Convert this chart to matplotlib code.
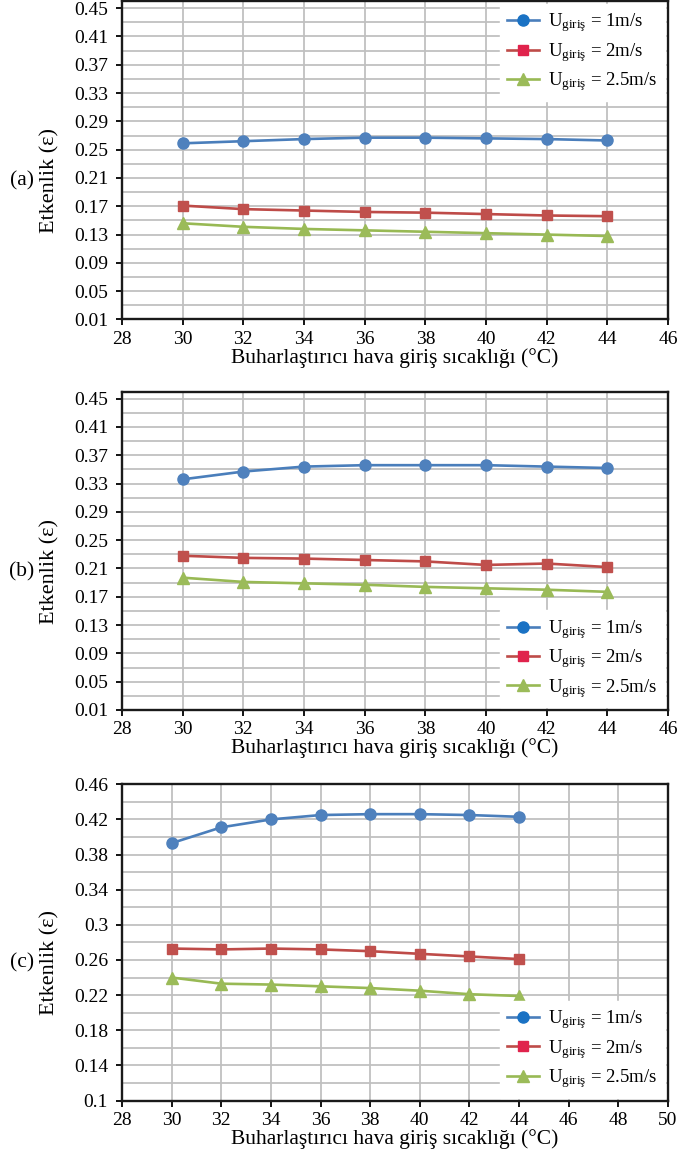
import matplotlib
matplotlib.use('Agg')
import matplotlib.pyplot as plt
from matplotlib.lines import Line2D
import numpy as np

plt.rcParams['font.family'] = ['Liberation Serif', 'DejaVu Serif']
plt.rcParams['mathtext.fontset'] = 'custom'
plt.rcParams['mathtext.rm'] = 'Liberation Serif'
plt.rcParams['mathtext.it'] = 'Liberation Serif:italic'

# sıcaklık değerleri (°C)
sicaklik = [30, 32, 34, 36, 38, 40, 42, 44]

# (a)
a_1 = [0.259, 0.262, 0.265, 0.267, 0.267, 0.266, 0.265, 0.263]
a_2 = [0.171, 0.166, 0.164, 0.162, 0.161, 0.159, 0.157, 0.156]
a_25 = [0.146, 0.141, 0.138, 0.136, 0.134, 0.132, 0.130, 0.128]

# (b)
b_1 = [0.336, 0.347, 0.354, 0.356, 0.356, 0.356, 0.354, 0.352]
b_2 = [0.228, 0.225, 0.224, 0.222, 0.220, 0.215, 0.217, 0.212]
b_25 = [0.197, 0.191, 0.189, 0.187, 0.184, 0.182, 0.180, 0.177]

# (c)
c_1 = [0.393, 0.411, 0.420, 0.425, 0.426, 0.426, 0.425, 0.423]
c_2 = [0.273, 0.272, 0.273, 0.272, 0.270, 0.267, 0.264, 0.261]
c_25 = [0.240, 0.233, 0.232, 0.230, 0.228, 0.225, 0.221, 0.219]

etiketler = [r'U$_{\mathrm{giriş}}$ = 1m/s', r'U$_{\mathrm{giriş}}$ = 2m/s',
             r'U$_{\mathrm{giriş}}$ = 2.5m/s']

paneller = [
    ('(a)', [a_1, a_2, a_25], (0.01, 0.46), np.arange(0.01, 0.451, 0.04), (28, 46), 'upper right'),
    ('(b)', [b_1, b_2, b_25], (0.01, 0.46), np.arange(0.01, 0.451, 0.04), (28, 46), 'lower right'),
    ('(c)', [c_1, c_2, c_25], (0.10, 0.46), np.arange(0.10, 0.461, 0.04), (28, 50), 'lower right'),
]

cizgi_renk = ['#4A7EBB', '#BE4B48', '#98B954']
isaret_renk = ['#4F81BD', '#C0504D', '#9BBB59']
lejant_renk = ['#1A72C4', '#E0234C', '#9BBB59']
isaretler = ['o', 's', '^']
boyut = [8, 7.5, 8]

W, H = 678, 1156
fig = plt.figure(figsize=(W / 100, H / 100), dpi=100)

# eksen konumlari (piksel): ust, alt
konum = [(1.1, 319.5), (391.6, 710.0), (784.3, 1100.5)]
sol, sag = 122, 668

for i, (harf, seriler, ylim, yticks, xlim, lej_yer) in enumerate(paneller):
    ust, alt = konum[i]
    ax = fig.add_axes([sol / W, 1 - alt / H, (sag - sol) / W, (alt - ust) / H])

    # ara cizgiler
    for y in np.arange(ylim[0] + 0.02, ylim[1], 0.04):
        ax.axhline(y, color='#C0C0C0', lw=1.3, zorder=0)
    for y in yticks:
        ax.axhline(y, color='#C0C0C0', lw=1.3, zorder=0)
    for x in range(xlim[0] + 2, xlim[1], 2):
        ax.axvline(x, color='#C0C0C0', lw=1.3, zorder=0)

    for j, seri in enumerate(seriler):
        ax.plot(sicaklik, seri, color=cizgi_renk[j], lw=1.9, marker=isaretler[j],
                markersize=boyut[j], markerfacecolor=isaret_renk[j],
                markeredgecolor=isaret_renk[j], zorder=3)

    ax.set_xlim(*xlim)
    ax.set_ylim(*ylim)
    ax.set_xticks(range(xlim[0], xlim[1] + 1, 2))
    ax.set_yticks(yticks)
    ax.set_yticklabels(['%g' % round(v, 2) for v in yticks])
    ax.tick_params(labelsize=14, direction='out', length=4, width=1.3, pad=6)
    ax.tick_params(axis='x', pad=4)
    for s in ax.spines.values():
        s.set_linewidth(1.7)
        s.set_color('#1a1a1a')

    ax.set_xlabel('Buharlaştırıcı hava giriş sıcaklığı (°C)', fontsize=15.5, labelpad=0)

    merkez = ust + (alt - ust) * 0.565
    fig.text(50 / W, 1 - merkez / H, 'Etkenlik (ε)', rotation=90, fontsize=16,
             ha='center', va='center')
    fig.text(22 / W, 1 - merkez / H, harf, fontsize=15.5, ha='center', va='center')

    tutamac = [Line2D([0], [0], color=cizgi_renk[j], lw=1.9, marker=isaretler[j],
                      markersize=boyut[j], markerfacecolor=lejant_renk[j],
                      markeredgecolor=lejant_renk[j]) for j in range(3)]
    lej = ax.legend(tutamac, etiketler, loc=lej_yer, fontsize=13.5, frameon=True,
                    fancybox=False, framealpha=1, edgecolor='white',
                    handlelength=1.7, handletextpad=0.5, labelspacing=0.35,
                    borderaxespad=0.15, borderpad=0.4)
    lej.set_zorder(5)

fig.savefig('out.png', dpi=100)
